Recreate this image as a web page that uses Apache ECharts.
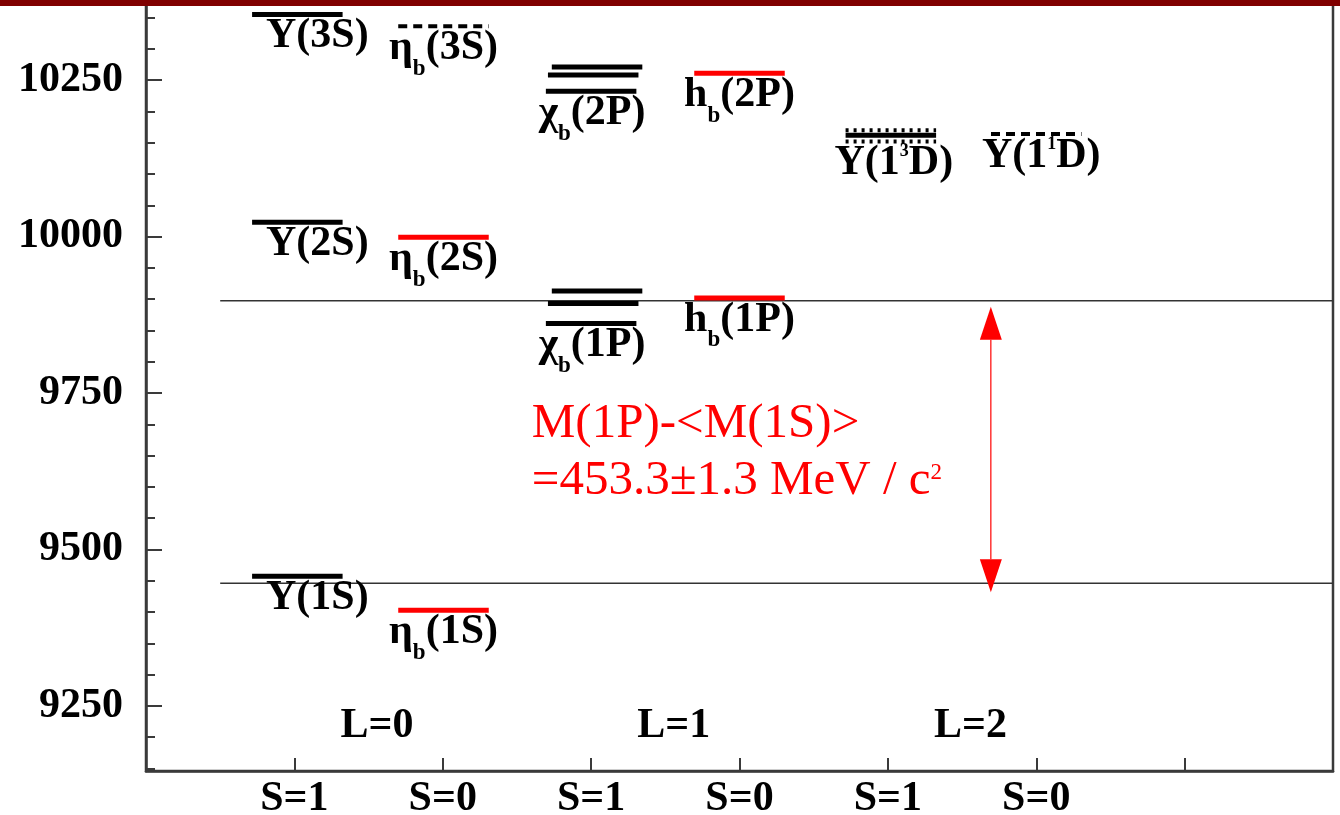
<!DOCTYPE html>
<html>
<head>
<meta charset="utf-8">
<title>Bottomonium spectrum</title>
<script src="https://cdn.jsdelivr.net/npm/echarts@6/dist/echarts.min.js"></script>
<style>
  html, body { margin: 0; padding: 0; background: #fff; }
  #chart { width: 1340px; height: 815px; }
</style>
</head>
<body>
<div id="chart"></div>
<script>
// columns on the x axis (value 1..6), mass in MeV/c^2 on the y axis
const spinLabels = ['S=1', 'S=0', 'S=1', 'S=0', 'S=1', 'S=0']
const orbitLabels = ['L=0', 'L=1', 'L=2']
const yTicks = [9250, 9500, 9750, 10000, 10250]
const yMinorTicks = [9150, 9200, 9300, 9350, 9400, 9450, 9550, 9600, 9650, 9700,
  9800, 9850, 9900, 9950, 10050, 10100, 10150, 10200, 10300, 10350]

// level masses
const upsilonS = [9457, 10023, 10355]       // Υ(1S), Υ(2S), Υ(3S)
const etabS = [9403, 9999, 10336]           // η_b(1S), η_b(2S), η_b(3S) (3S predicted)
const chib1P = [9861, 9893, 9913]           // χ_b0, χ_b1, χ_b2 (1P)
const chib2P = [10232, 10258, 10271]        // χ_b0, χ_b1, χ_b2 (2P)
const hbP = [9902, 10261]                   // h_b(1P), h_b(2P)
const upsilon3D = [10152, 10162, 10170]     // Υ(1³D) J=1 (pred), J=2, J=3 (pred)
const upsilon1D = [10164]                   // Υ(1¹D) predicted
const mass1P = 9897.5
const mass1S = 9446                         // spin averaged <M(1S)>

const SERIF = 'Liberation Serif'
const RED = '#ff0000'
const BLACK = '#000000'
const HALF = 0.305
const S1_SHIFT = 0.02
const CHI_SHIFT = [-0.02, -0.006, 0.02]

// build level segments and their names
const levels = []
const names = []
function addLevel(center, m, color, dash, width) {
  levels.push({ x0: center - HALF, x1: center + HALF, m: m, color: color, dash: dash, width: width || 5 })
}

upsilonS.forEach((m, i) => {
  addLevel(1 + S1_SHIFT, m, BLACK)
  names.push({ text: '{m|Υ(' + (i + 1) + 'S)}', x: 1 + S1_SHIFT, m: m, dx: 20 })
})
etabS.forEach((m, i) => {
  if (i === 2) addLevel(2.005, m, BLACK, [9, 6], 4)
  else addLevel(2.005, m, RED)
  names.push({ text: '{m|η}{s|b}{m|(' + (i + 1) + 'S)}', x: 2.005, m: m, dx: 0 })
})
chib1P.forEach((m, j) => addLevel(3 + S1_SHIFT + CHI_SHIFT[j], m, BLACK))
chib2P.forEach((m, j) => addLevel(3 + S1_SHIFT + CHI_SHIFT[j], m, BLACK))
names.push({ text: '{m|χ}{s|b}{m|(1P)}', x: 3 + S1_SHIFT, m: chib1P[0], dx: -2 })
names.push({ text: '{m|χ}{s|b}{m|(2P)}', x: 3 + S1_SHIFT, m: chib2P[0], dx: -2 })
hbP.forEach((m, i) => {
  addLevel(4, m, RED)
  names.push({ text: '{m|h}{s|b}{m|(' + (i + 1) + 'P)}', x: 4, m: m, dx: 0 })
})
upsilon3D.forEach((m, j) => {
  if (j === 1) addLevel(5 + S1_SHIFT, m, BLACK, null, 5)
  else addLevel(5 + S1_SHIFT, m, BLACK, [3, 5], 4)
})
names.push({ text: '{m|Υ(1}{p|3}{m|D)}', x: 5 + S1_SHIFT, m: upsilon3D[0], dx: 3 })
upsilon1D.forEach(m => {
  addLevel(6, m, BLACK, [9, 6], 4)
  names.push({ text: '{m|Υ(1}{p|1}{m|D)}', x: 6, m: m, dx: 5 })
})

// every token is top aligned so the sub/superscripts can be moved with padding
const RICH = {
  m: { fontSize: 42, fontWeight: 'bold', fontFamily: SERIF, lineHeight: 46, verticalAlign: 'top', fill: BLACK },
  s: { fontSize: 23, fontWeight: 'bold', fontFamily: SERIF, verticalAlign: 'top', padding: [30, 0, 0, 0], fill: BLACK },
  p: { fontSize: 18, fontWeight: 'bold', fontFamily: SERIF, verticalAlign: 'top', fill: BLACK }
}

const chart = echarts.init(document.getElementById('chart'))

chart.setOption({
  animation: false,
  backgroundColor: '#ffffff',
  grid: {
    left: 146, right: 7, top: 0, bottom: 44,
    outerBoundsMode: 'none',
    show: true, borderColor: '#3a3a3a', borderWidth: 2.5
  },
  xAxis: {
    type: 'value',
    min: 0,
    max: 8,
    splitLine: { show: false },
    axisLine: { lineStyle: { color: '#3a3a3a', width: 2.5 } },
    axisTick: {
      inside: true, length: 13,
      customValues: [1, 2, 3, 4, 5, 6, 7],
      lineStyle: { color: '#3a3a3a', width: 2 }
    },
    axisLabel: {
      customValues: [1, 2, 3, 4, 5, 6],
      formatter: v => spinLabels[v - 1],
      margin: 7,
      color: BLACK, fontSize: 42, fontWeight: 'bold', fontFamily: SERIF
    }
  },
  yAxis: [{
    type: 'value',
    min: 9146,
    max: 10378,
    splitLine: { show: false },
    axisLine: { show: true, lineStyle: { color: '#3a3a3a', width: 2.5 } },
    axisTick: {
      inside: true, length: 16,
      customValues: yTicks,
      lineStyle: { color: '#3a3a3a', width: 2 }
    },
    axisLabel: {
      customValues: yTicks,
      formatter: v => String(v),
      margin: 23,
      color: BLACK, fontSize: 42, fontWeight: 'bold', fontFamily: SERIF
    }
  }, {
    type: 'value',
    min: 9146,
    max: 10378,
    position: 'left',
    splitLine: { show: false },
    axisLine: { show: false },
    axisTick: {
      inside: true, length: 9,
      customValues: yMinorTicks,
      lineStyle: { color: '#3a3a3a', width: 2 }
    },
    axisLabel: { show: false }
  }],
  graphic: [{
    type: 'rect',
    left: 0, top: 0, z: 100,
    shape: { width: 1340, height: 6 },
    style: { fill: '#800000' }
  }],
  series: [{
    // reference lines at M(1P) and <M(1S)>
    type: 'custom',
    data: [[0.5, 8, mass1P], [0.5, 8, mass1S]],
    encode: { x: [0, 1], y: 2 },
    renderItem(params, api) {
      const a = api.coord([api.value(0), api.value(2)])
      const b = api.coord([api.value(1), api.value(2)])
      return {
        type: 'line',
        shape: { x1: a[0], y1: a[1], x2: b[0], y2: b[1] },
        style: { stroke: '#333333', lineWidth: 1.6 }
      }
    }
  }, {
    type: 'custom',
    data: levels.map(l => [l.x0, l.x1, l.m]),
    encode: { x: [0, 1], y: 2 },
    renderItem(params, api) {
      const lv = levels[params.dataIndex]
      const a = api.coord([api.value(0), api.value(2)])
      const b = api.coord([api.value(1), api.value(2)])
      const style = { stroke: lv.color, lineWidth: lv.width }
      if (lv.dash) style.lineDash = lv.dash
      return {
        type: 'line',
        shape: { x1: a[0], y1: a[1], x2: b[0], y2: b[1] },
        style: style
      }
    }
  }, {
    // level names
    type: 'custom',
    data: names.map(n => [n.x, n.m]),
    encode: { x: 0, y: 1 },
    renderItem(params, api) {
      const n = names[params.dataIndex]
      const p = api.coord([api.value(0), api.value(1)])
      return {
        type: 'text',
        x: p[0] + n.dx,
        y: p[1] + 1,
        style: {
          text: n.text, rich: RICH,
          align: 'center', verticalAlign: 'top',
          fontSize: 42, fontWeight: 'bold', fontFamily: SERIF, fill: BLACK
        }
      }
    }
  }, {
    // L labels
    type: 'custom',
    data: orbitLabels.map((t, i) => [1.557 + 2 * i, 9218]),
    encode: { x: 0, y: 1 },
    renderItem(params, api) {
      const p = api.coord([api.value(0), api.value(1)])
      return {
        type: 'text',
        x: p[0], y: p[1],
        style: {
          text: orbitLabels[params.dataIndex],
          align: 'center', verticalAlign: 'middle',
          fontSize: 42, fontWeight: 'bold', fontFamily: SERIF, fill: BLACK
        }
      }
    }
  }, {
    // double arrow between M(1P) and <M(1S)>
    type: 'custom',
    data: [[5.694, mass1P, mass1S]],
    encode: { x: 0, y: [1, 2] },
    renderItem(params, api) {
      const t = api.coord([api.value(0), api.value(1)])
      const b = api.coord([api.value(0), api.value(2)])
      const x = t[0]
      const y1 = t[1] + 6
      const y2 = b[1] + 9
      const hw = 11, hh = 33
      return {
        type: 'group',
        children: [
          { type: 'line', shape: { x1: x, y1: y1 + hh, x2: x, y2: y2 - hh }, style: { stroke: RED, lineWidth: 1.2 } },
          { type: 'polygon', shape: { points: [[x, y1], [x - hw, y1 + hh], [x + hw, y1 + hh]] }, style: { fill: RED } },
          { type: 'polygon', shape: { points: [[x, y2], [x - hw, y2 - hh], [x + hw, y2 - hh]] }, style: { fill: RED } }
        ]
      }
    }
  }, {
    // annotation
    type: 'custom',
    data: [[2.6, 9746]],
    encode: { x: 0, y: 1 },
    renderItem(params, api) {
      const p = api.coord([api.value(0), api.value(1)])
      return {
        type: 'text',
        x: p[0], y: p[1],
        style: {
          text: '{a|M(1P)-<M(1S)>}\n{a|=453.3±1.3 MeV / c}{p|2}',
          align: 'left', verticalAlign: 'top',
          fontSize: 48, fontFamily: SERIF, fill: RED,
          rich: {
            a: { fontSize: 49, fontFamily: SERIF, lineHeight: 57, fill: RED },
            p: { fontSize: 23, fontFamily: SERIF, padding: [0, 0, 16, 0], fill: RED }
          }
        }
      }
    }
  }]
})
</script>
</body>
</html>
